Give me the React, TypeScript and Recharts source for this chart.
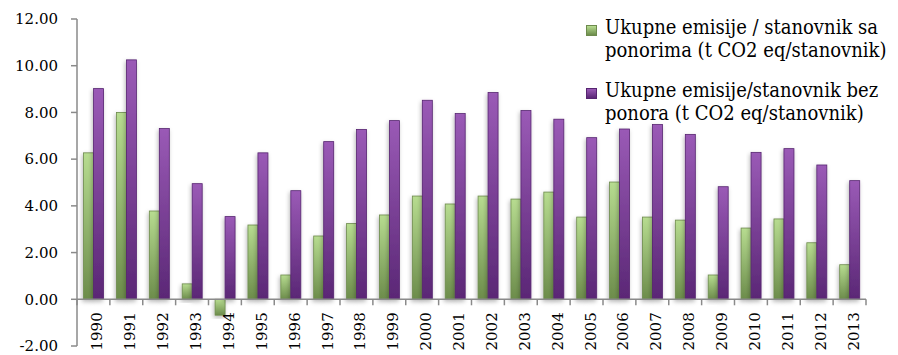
import React from 'react';
import { BarChart, Bar, XAxis, YAxis, ReferenceLine } from 'recharts';

const years = ['1990','1991','1992','1993','1994','1995','1996','1997','1998','1999','2000','2001','2002','2003','2004','2005','2006','2007','2008','2009','2010','2011','2012','2013'];
const withSinks = [6.27, 8.0, 3.78, 0.66, -0.68, 3.18, 1.04, 2.71, 3.24, 3.61, 4.42, 4.08, 4.42, 4.29, 4.59, 3.52, 5.02, 3.52, 3.39, 1.04, 3.05, 3.44, 2.42, 1.48];
const withoutSinks = [9.02, 10.25, 7.31, 4.95, 3.54, 6.27, 4.65, 6.75, 7.27, 7.65, 8.52, 7.95, 8.85, 8.08, 7.71, 6.92, 7.29, 7.48, 7.06, 4.82, 6.29, 6.45, 5.75, 5.08];
const yTicks = [-2, 0, 2, 4, 6, 8, 10, 12];
const seriesNames = [
  ['Ukupne emisije / stanovnik sa', 'ponorima (t CO2 eq/stanovnik)'],
  ['Ukupne emisije/stanovnik bez', 'ponora (t CO2 eq/stanovnik)'],
];

const data = years.map((y, i) => ({ year: y, sa: withSinks[i], bez: withoutSinks[i] }));

const W = 898;
const H = 355;
const MARGIN = { top: 19, right: 32, bottom: 8, left: 0 };
const YW = 77;
const XH = 1;
const plotW = W - MARGIN.left - MARGIN.right - YW;
const plotH = H - MARGIN.top - MARGIN.bottom - XH;
const band = plotW / years.length;
const zeroY = MARGIN.top + plotH * (12 / 14);
const AXIS = '#8a8a8a';
const FONT = '"DejaVu Serif", serif';
const LEGEND_FONT = '"DejaVu Serif Condensed", "DejaVu Serif", serif';

const XTick = (props: any) => {
  const { x, payload, index } = props;
  return (
    <g>
      <line x1={x + band / 2} x2={x + band / 2} y1={zeroY} y2={zeroY + 6} stroke={AXIS} strokeWidth={1.5} />
      {index === 0 && (
        <line x1={x - band / 2} x2={x - band / 2} y1={zeroY} y2={zeroY + 6} stroke={AXIS} strokeWidth={1.5} />
      )}
      <text
        transform={`translate(${x + 9},${zeroY + 13}) rotate(-90)`}
        textAnchor="end"
        fontSize={15}
        fontFamily={FONT}
        fill="#000"
      >
        {payload.value}
      </text>
    </g>
  );
};

const makeShape = (fillId: string, stroke: string) => (props: any) => {
  const { x, y, width, height } = props;
  const h = Math.abs(height);
  const yy = height < 0 ? y + height : y;
  return (
    <rect x={x} y={yy} width={width} height={h} fill={`url(#${fillId})`} stroke={stroke} strokeWidth={0.8} filter="url(#shadow)" />
  );
};

const greenShape = makeShape('gGreen', '#6d8a4d');
const purpleShape = makeShape('gPurple', '#562470');

export default function App() {
  return (
    <div style={{ position: 'absolute', left: 0, top: 0, width: W, height: H, background: '#fff' }}>
      <BarChart
        width={W}
        height={H}
        data={data}
        margin={MARGIN}
        barCategoryGap="20%"
        barGap={0}
        style={{ fontFamily: FONT }}
      >
        <defs>
          <linearGradient id="gGreen" x1="0" y1="0" x2="0" y2="1">
            <stop offset="0%" stopColor="#b7dc90" />
            <stop offset="100%" stopColor="#6c8c4b" />
          </linearGradient>
          <linearGradient id="gPurple" x1="0" y1="0" x2="0" y2="1">
            <stop offset="0%" stopColor="#9a5ab6" />
            <stop offset="100%" stopColor="#5a2775" />
          </linearGradient>
          <filter id="shadow" x="-50%" y="-10%" width="200%" height="130%">
            <feDropShadow dx="-1" dy="2" stdDeviation="2.2" floodColor="#000" floodOpacity="0.28" />
          </filter>
        </defs>
        <XAxis
          dataKey="year"
          axisLine={false}
          tickLine={false}
          height={XH}
          interval={0}
          tick={<XTick />}
        />
        <YAxis
          width={YW}
          domain={[-2, 12]}
          ticks={yTicks}
          interval={0}
          tickFormatter={(v: number) => v.toFixed(2)}
          axisLine={{ stroke: AXIS, strokeWidth: 1.5 }}
          tickLine={{ stroke: AXIS, strokeWidth: 1.5 }}
          tickSize={6}
          tickMargin={13}
          tick={{ fill: '#000', fontSize: 15, fontFamily: FONT }}
        />
        <Bar dataKey="sa" name={seriesNames[0].join(' ')} shape={greenShape} isAnimationActive={false} />
        <Bar dataKey="bez" name={seriesNames[1].join(' ')} shape={purpleShape} isAnimationActive={false} />
        <ReferenceLine y={0} stroke={AXIS} strokeWidth={1.5} />
      </BarChart>
      <div style={{ position: 'absolute', left: 0, top: 0, fontFamily: LEGEND_FONT, fontStretch: 'condensed', fontSize: 20, lineHeight: '23px', color: '#000' }}>
        {seriesNames.map((lines, i) => (
          <div key={i} style={{ position: 'absolute', left: 605, top: i === 0 ? 15.5 : 78.5, whiteSpace: 'nowrap' }}>
            <div
              style={{
                position: 'absolute',
                left: -19,
                top: 9,
                width: 9,
                height: 9,
                background: i === 0 ? 'linear-gradient(#b7dc90,#6c8c4b)' : 'linear-gradient(#9a5ab6,#5a2775)',
                border: `1px solid ${i === 0 ? '#6d8a4d' : '#562470'}`,
              }}
            />
            {lines.map((l, j) => (
              <div key={j}>{l}</div>
            ))}
          </div>
        ))}
      </div>
    </div>
  );
}
